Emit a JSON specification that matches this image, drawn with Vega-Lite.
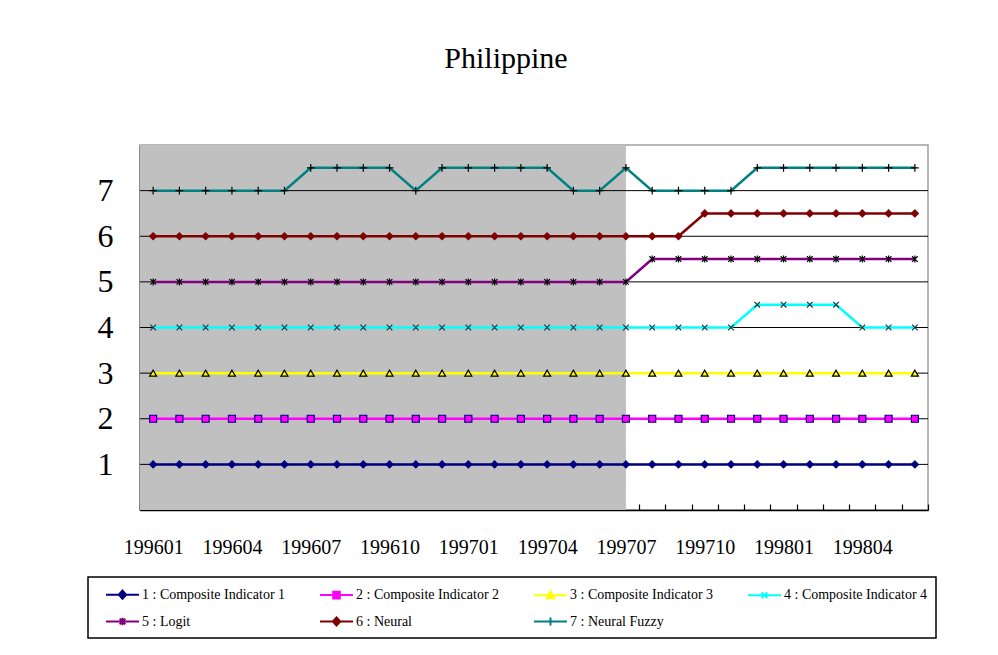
{
  "$schema": "https://vega.github.io/schema/vega-lite/v6.json",
  "autosize": "none",
  "width": 788,
  "height": 365,
  "padding": {"left": 140, "top": 145, "right": 70, "bottom": 145},
  "background": "white",
  "title": {"text": "Philippine", "anchor": "middle", "dx": -28, "offset": 47, "baseline": "alphabetic", "font": "Liberation Serif", "fontSize": 30, "fontWeight": "normal", "color": "black"},
  "config": {
    "view": {"stroke": "#A0A0A0", "strokeWidth": 1.5},
    "axis": {"labelFont": "Liberation Serif", "labelColor": "black", "domainColor": "black", "tickColor": "black", "grid": false, "title": null, "zindex": 1}
  },
  "datasets": {
    "months": [
      {"m": "199601", "1 : Composite Indicator 1": 1, "2 : Composite Indicator 2": 2, "3 : Composite Indicator 3": 3, "4 : Composite Indicator 4": 4, "5 : Logit": 5, "6 : Neural": 6, "7 : Neural Fuzzy": 7},
      {"m": "199602", "1 : Composite Indicator 1": 1, "2 : Composite Indicator 2": 2, "3 : Composite Indicator 3": 3, "4 : Composite Indicator 4": 4, "5 : Logit": 5, "6 : Neural": 6, "7 : Neural Fuzzy": 7},
      {"m": "199603", "1 : Composite Indicator 1": 1, "2 : Composite Indicator 2": 2, "3 : Composite Indicator 3": 3, "4 : Composite Indicator 4": 4, "5 : Logit": 5, "6 : Neural": 6, "7 : Neural Fuzzy": 7},
      {"m": "199604", "1 : Composite Indicator 1": 1, "2 : Composite Indicator 2": 2, "3 : Composite Indicator 3": 3, "4 : Composite Indicator 4": 4, "5 : Logit": 5, "6 : Neural": 6, "7 : Neural Fuzzy": 7},
      {"m": "199605", "1 : Composite Indicator 1": 1, "2 : Composite Indicator 2": 2, "3 : Composite Indicator 3": 3, "4 : Composite Indicator 4": 4, "5 : Logit": 5, "6 : Neural": 6, "7 : Neural Fuzzy": 7},
      {"m": "199606", "1 : Composite Indicator 1": 1, "2 : Composite Indicator 2": 2, "3 : Composite Indicator 3": 3, "4 : Composite Indicator 4": 4, "5 : Logit": 5, "6 : Neural": 6, "7 : Neural Fuzzy": 7},
      {"m": "199607", "1 : Composite Indicator 1": 1, "2 : Composite Indicator 2": 2, "3 : Composite Indicator 3": 3, "4 : Composite Indicator 4": 4, "5 : Logit": 5, "6 : Neural": 6, "7 : Neural Fuzzy": 7.5},
      {"m": "199608", "1 : Composite Indicator 1": 1, "2 : Composite Indicator 2": 2, "3 : Composite Indicator 3": 3, "4 : Composite Indicator 4": 4, "5 : Logit": 5, "6 : Neural": 6, "7 : Neural Fuzzy": 7.5},
      {"m": "199609", "1 : Composite Indicator 1": 1, "2 : Composite Indicator 2": 2, "3 : Composite Indicator 3": 3, "4 : Composite Indicator 4": 4, "5 : Logit": 5, "6 : Neural": 6, "7 : Neural Fuzzy": 7.5},
      {"m": "199610", "1 : Composite Indicator 1": 1, "2 : Composite Indicator 2": 2, "3 : Composite Indicator 3": 3, "4 : Composite Indicator 4": 4, "5 : Logit": 5, "6 : Neural": 6, "7 : Neural Fuzzy": 7.5},
      {"m": "199611", "1 : Composite Indicator 1": 1, "2 : Composite Indicator 2": 2, "3 : Composite Indicator 3": 3, "4 : Composite Indicator 4": 4, "5 : Logit": 5, "6 : Neural": 6, "7 : Neural Fuzzy": 7},
      {"m": "199612", "1 : Composite Indicator 1": 1, "2 : Composite Indicator 2": 2, "3 : Composite Indicator 3": 3, "4 : Composite Indicator 4": 4, "5 : Logit": 5, "6 : Neural": 6, "7 : Neural Fuzzy": 7.5},
      {"m": "199701", "1 : Composite Indicator 1": 1, "2 : Composite Indicator 2": 2, "3 : Composite Indicator 3": 3, "4 : Composite Indicator 4": 4, "5 : Logit": 5, "6 : Neural": 6, "7 : Neural Fuzzy": 7.5},
      {"m": "199702", "1 : Composite Indicator 1": 1, "2 : Composite Indicator 2": 2, "3 : Composite Indicator 3": 3, "4 : Composite Indicator 4": 4, "5 : Logit": 5, "6 : Neural": 6, "7 : Neural Fuzzy": 7.5},
      {"m": "199703", "1 : Composite Indicator 1": 1, "2 : Composite Indicator 2": 2, "3 : Composite Indicator 3": 3, "4 : Composite Indicator 4": 4, "5 : Logit": 5, "6 : Neural": 6, "7 : Neural Fuzzy": 7.5},
      {"m": "199704", "1 : Composite Indicator 1": 1, "2 : Composite Indicator 2": 2, "3 : Composite Indicator 3": 3, "4 : Composite Indicator 4": 4, "5 : Logit": 5, "6 : Neural": 6, "7 : Neural Fuzzy": 7.5},
      {"m": "199705", "1 : Composite Indicator 1": 1, "2 : Composite Indicator 2": 2, "3 : Composite Indicator 3": 3, "4 : Composite Indicator 4": 4, "5 : Logit": 5, "6 : Neural": 6, "7 : Neural Fuzzy": 7},
      {"m": "199706", "1 : Composite Indicator 1": 1, "2 : Composite Indicator 2": 2, "3 : Composite Indicator 3": 3, "4 : Composite Indicator 4": 4, "5 : Logit": 5, "6 : Neural": 6, "7 : Neural Fuzzy": 7},
      {"m": "199707", "1 : Composite Indicator 1": 1, "2 : Composite Indicator 2": 2, "3 : Composite Indicator 3": 3, "4 : Composite Indicator 4": 4, "5 : Logit": 5, "6 : Neural": 6, "7 : Neural Fuzzy": 7.5},
      {"m": "199708", "1 : Composite Indicator 1": 1, "2 : Composite Indicator 2": 2, "3 : Composite Indicator 3": 3, "4 : Composite Indicator 4": 4, "5 : Logit": 5.5, "6 : Neural": 6, "7 : Neural Fuzzy": 7},
      {"m": "199709", "1 : Composite Indicator 1": 1, "2 : Composite Indicator 2": 2, "3 : Composite Indicator 3": 3, "4 : Composite Indicator 4": 4, "5 : Logit": 5.5, "6 : Neural": 6, "7 : Neural Fuzzy": 7},
      {"m": "199710", "1 : Composite Indicator 1": 1, "2 : Composite Indicator 2": 2, "3 : Composite Indicator 3": 3, "4 : Composite Indicator 4": 4, "5 : Logit": 5.5, "6 : Neural": 6.5, "7 : Neural Fuzzy": 7},
      {"m": "199711", "1 : Composite Indicator 1": 1, "2 : Composite Indicator 2": 2, "3 : Composite Indicator 3": 3, "4 : Composite Indicator 4": 4, "5 : Logit": 5.5, "6 : Neural": 6.5, "7 : Neural Fuzzy": 7},
      {"m": "199712", "1 : Composite Indicator 1": 1, "2 : Composite Indicator 2": 2, "3 : Composite Indicator 3": 3, "4 : Composite Indicator 4": 4.5, "5 : Logit": 5.5, "6 : Neural": 6.5, "7 : Neural Fuzzy": 7.5},
      {"m": "199801", "1 : Composite Indicator 1": 1, "2 : Composite Indicator 2": 2, "3 : Composite Indicator 3": 3, "4 : Composite Indicator 4": 4.5, "5 : Logit": 5.5, "6 : Neural": 6.5, "7 : Neural Fuzzy": 7.5},
      {"m": "199802", "1 : Composite Indicator 1": 1, "2 : Composite Indicator 2": 2, "3 : Composite Indicator 3": 3, "4 : Composite Indicator 4": 4.5, "5 : Logit": 5.5, "6 : Neural": 6.5, "7 : Neural Fuzzy": 7.5},
      {"m": "199803", "1 : Composite Indicator 1": 1, "2 : Composite Indicator 2": 2, "3 : Composite Indicator 3": 3, "4 : Composite Indicator 4": 4.5, "5 : Logit": 5.5, "6 : Neural": 6.5, "7 : Neural Fuzzy": 7.5},
      {"m": "199804", "1 : Composite Indicator 1": 1, "2 : Composite Indicator 2": 2, "3 : Composite Indicator 3": 3, "4 : Composite Indicator 4": 4, "5 : Logit": 5.5, "6 : Neural": 6.5, "7 : Neural Fuzzy": 7.5},
      {"m": "199805", "1 : Composite Indicator 1": 1, "2 : Composite Indicator 2": 2, "3 : Composite Indicator 3": 3, "4 : Composite Indicator 4": 4, "5 : Logit": 5.5, "6 : Neural": 6.5, "7 : Neural Fuzzy": 7.5},
      {"m": "199806", "1 : Composite Indicator 1": 1, "2 : Composite Indicator 2": 2, "3 : Composite Indicator 3": 3, "4 : Composite Indicator 4": 4, "5 : Logit": 5.5, "6 : Neural": 6.5, "7 : Neural Fuzzy": 7.5}
    ],
    "shade": [{"from": "199601", "to": "199707"}],
    "gridvals": [{"g": 1}, {"g": 2}, {"g": 3}, {"g": 4}, {"g": 5}, {"g": 6}, {"g": 7}]
  },
  "layer": [
    {
      "data": {"name": "shade"},
      "mark": {"type": "rect", "color": "#C0C0C0"},
      "encoding": {
        "x": {"field": "from", "type": "ordinal", "bandPosition": 0},
        "x2": {"field": "to", "bandPosition": 0.5},
        "y": {"datum": 0},
        "y2": {"datum": 8}
      }
    },
    {
      "data": {"name": "gridvals"},
      "mark": {"type": "rule", "color": "black", "strokeWidth": 1},
      "encoding": {"y": {"field": "g", "type": "quantitative"}}
    },
    {
      "data": {"name": "months"},
      "transform": [{"fold": ["1 : Composite Indicator 1", "2 : Composite Indicator 2", "3 : Composite Indicator 3", "4 : Composite Indicator 4", "5 : Logit", "6 : Neural", "7 : Neural Fuzzy"], "as": ["s", "v"]}],
      "layer": [
        {
          "mark": {"type": "line", "strokeWidth": 2.5},
          "encoding": {
            "x": {"field": "m", "type": "ordinal", "axis": {"labelAngle": 0, "labelAlign": "center", "labelFontSize": 20, "tickBand": "extent", "tickSize": -6, "tickWidth": 1.2, "labelPadding": 43, "domainWidth": 1.5,
              "labelExpr": "(toNumber(datum.value) % 100 - 1) % 3 == 0 ? datum.value : ''"}},
            "y": {"field": "v", "type": "quantitative", "scale": {"domain": [0, 8], "nice": false}, "axis": {"values": [1, 2, 3, 4, 5, 6, 7], "ticks": false, "labelFontSize": 32, "labelPadding": 27, "domainWidth": 1.5}},
            "color": {"field": "s", "type": "nominal",
              "scale": {"range": ["#000080", "#FF00FF", "#FFFF00", "#00FFFF", "#800080", "#800000", "#008080"]},
              "legend": {
                "title": null, "orient": "none", "legendX": -52, "legendY": 432, "columns": 4, "direction": "horizontal",
                "strokeColor": "black", "padding": 8, "fillColor": "white",
                "labelFont": "Liberation Serif", "labelFontSize": 14, "labelColor": "black", "labelLimit": 300,
                "symbolSize": 272, "symbolOffset": 17, "labelOffset": 10, "columnPadding": 24, "rowPadding": 9,
                "encode": {
                  "legend": {"update": {"strokeWidth": {"value": 1.5}}},
                  "symbols": {"update": {
                  "shape": {"signal": "['M-2,0H2M0,-0.5L0.45,0L0,0.5L-0.45,0Z','M-2,0H2M-0.4,-0.4H0.4V0.4H-0.4Z','M-2,0H2M0,-0.45L0.45,0.35H-0.45Z','M-2,0H2M-0.35,-0.35L0.35,0.35M-0.35,0.35L0.35,-0.35','M-2,0H2M-0.35,-0.35L0.35,0.35M-0.35,0.35L0.35,-0.35M0,-0.45V0.45','M-2,0H2M0,-0.5L0.45,0L0,0.5L-0.45,0Z','M-2,0H2M0,-0.5V0.5'][toNumber(substring(datum.value,0,1))-1]"},
                  "fill": {"scale": "color", "field": "value"},
                  "stroke": {"scale": "color", "field": "value"},
                  "strokeWidth": {"value": 2},
                  "size": {"value": 272}
                }}}
              }
            }
          }
        },
        {
          "mark": {"type": "point", "opacity": 1, "strokeWidth": 1.2, "size": 49},
          "encoding": {
            "x": {"field": "m", "type": "ordinal"},
            "y": {"field": "v", "type": "quantitative"},
            "shape": {"field": "s", "type": "nominal", "legend": null,
              "scale": {"range": ["diamond", "square", "triangle-up", "M-0.8,-0.8L0.8,0.8M-0.8,0.8L0.8,-0.8", "M-0.8,-0.8L0.8,0.8M-0.8,0.8L0.8,-0.8M0,-1V1", "diamond", "M-1.1,0H1.1M0,-1.1V1.1"]}},
            "fill": {"field": "s", "type": "nominal", "legend": null,
              "scale": {"range": ["#000080", "#FF00FF", "#FFFF00", "transparent", "transparent", "#800000", "transparent"]}},
            "stroke": {"field": "s", "type": "nominal", "legend": null,
              "scale": {"range": ["#000080", "#000080", "#000000", "#1a3a3a", "#000000", "#800000", "#000000"]}}
          }
        }
      ]
    }
  ]
}
